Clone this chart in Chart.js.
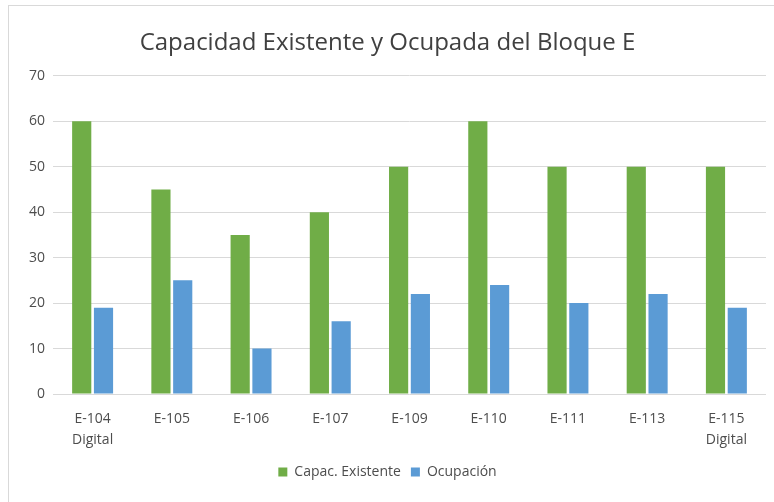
<!DOCTYPE html>
<html>
<head>
<meta charset="utf-8">
<script src="https://cdn.jsdelivr.net/npm/chart.js@4"></script>
<style>
  body { margin: 0; background: #fff; width: 774px; height: 502px; overflow: hidden; position: relative; }
  #frame { position: absolute; left: 8px; top: 5px; width: 780px; height: 510px; border: 1px solid #d9d9d9; box-sizing: border-box; }
  #wrap { position: absolute; left: 9px; top: 6px; width: 765px; height: 496px; }
</style>
</head>
<body>
<div id="frame"></div>
<div id="wrap"><canvas id="chart"></canvas></div>
<script>
// Capacidad existente vs ocupación, Bloque E
const aulas = [["E-104", "Digital"], "E-105", "E-106", "E-107", "E-109", "E-110", "E-111", "E-113", ["E-115", "Digital"]];
const capacidad = [60, 45, 35, 40, 50, 60, 50, 50, 50];
const ocupacion = [19, 25, 10, 16, 22, 24, 20, 22, 19];
const yTicks = [0, 10, 20, 30, 40, 50, 60, 70];

const font = "'Open Sans', 'DejaVu Sans', sans-serif";
const gray = "#4d4d4d";

new Chart(document.getElementById("chart"), {
  type: "bar",
  data: {
    labels: aulas,
    datasets: [
      { label: "Capac. Existente", data: capacidad, backgroundColor: "#70ad47" },
      { label: "Ocupación", data: ocupacion, backgroundColor: "#5b9bd5" },
    ],
  },
  options: {
    responsive: true,
    maintainAspectRatio: false,
    animation: false,
    datasets: { bar: { categoryPercentage: 0.55, barPercentage: 0.88 } },
    layout: { padding: { top: 10, right: 8, bottom: 13, left: 0 } },
    plugins: {
      title: {
        display: true,
        text: "Capacidad Existente y Ocupada del Bloque E",
        color: "#404040",
        font: { family: font, size: 24, weight: "normal" },
        padding: { top: 13, bottom: 18 },
      },
      legend: {
        position: "bottom",
        labels: {
          color: gray,
          font: { family: font, size: 14 },
          boxWidth: 9,
          boxHeight: 9,
          padding: 10,
        },
      },
      tooltip: { enabled: false },
    },
    scales: {
      x: {
        grid: { display: false },
        border: { display: false },
        ticks: { color: gray, font: { family: font, size: 14, lineHeight: 1.5 }, padding: 7, maxRotation: 0 },
        afterFit: (s) => { s.height = 61; },
      },
      y: {
        min: 0,
        max: 70,
        afterBuildTicks: (s) => { s.ticks = yTicks.map((v) => ({ value: v })); },
        grid: { color: "#d9d9d9", drawTicks: false },
        border: { display: false },
        ticks: { color: gray, font: { family: font, size: 14 }, padding: 8 },
        afterFit: (s) => { s.width = 44; },
      },
    },
  },
});
</script>
</body>
</html>
